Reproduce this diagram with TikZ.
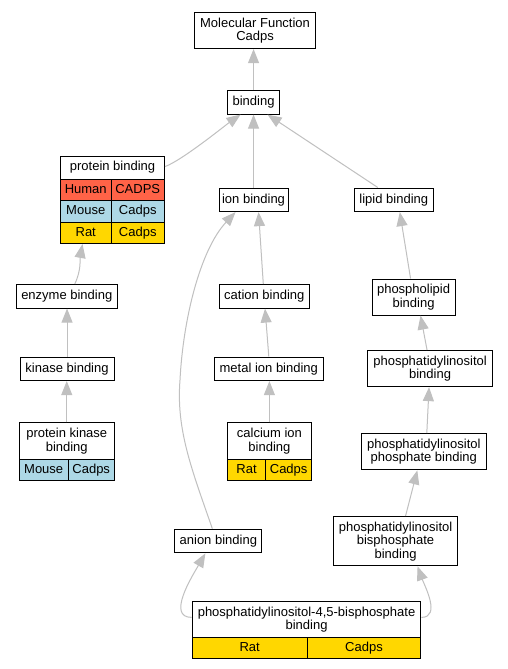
\documentclass[tikz,border=0pt]{standalone}
\usepackage{fontspec}
\setmainfont{Liberation Sans}
\usetikzlibrary{arrows.meta}
\definecolor{edgegray}{HTML}{C0C0C0}
\definecolor{human}{HTML}{FF6347}
\definecolor{mouse}{HTML}{ADD8E6}
\definecolor{rat}{HTML}{FFD700}
\begin{document}
\begin{tikzpicture}[x=1pt,y=-1pt,
  box/.style={draw=black, line width=1.1pt, fill=white, inner sep=0pt, align=center,
    anchor=north west, font=\fontsize{13}{13.5}\selectfont},
  one/.style={box, text height=9.4pt, text depth=2.7pt},
  cell/.style={one, line width=1pt},
  edge/.style={draw=edgegray, line width=1pt, -{Triangle[length=14pt,width=11pt]}}]
\fill[white] (0,0) rectangle (507,669);
\useasboundingbox (0,0) rectangle (507,669);

% nodes
\node[box, minimum width=121pt, minimum height=36pt] (mf) at (194,12) {Molecular Function\\Cadps};
\node[one, minimum width=52pt, minimum height=23.5pt] (bind) at (227,90) {binding};

\node[one, minimum width=104pt, minimum height=23pt] (pbh) at (60,155.5) {protein binding};
\node[cell, fill=human, minimum width=50.5pt, minimum height=21.5pt] (pb1a) at (60,178.5) {Human};
\node[cell, fill=human, minimum width=53.5pt, minimum height=21.5pt] (pb1b) at (110.5,178.5) {CADPS};
\node[cell, fill=mouse, minimum width=50.5pt, minimum height=21.5pt] (pb2a) at (60,200) {Mouse};
\node[cell, fill=mouse, minimum width=53.5pt, minimum height=21.5pt] (pb2b) at (110.5,200) {Cadps};
\node[cell, fill=rat, minimum width=50.5pt, minimum height=21.5pt] (pb3a) at (60,221.5) {Rat};
\node[cell, fill=rat, minimum width=53.5pt, minimum height=21.5pt] (pb3b) at (110.5,221.5) {Cadps};

\node[one, minimum width=69pt, minimum height=23.5pt] (ion) at (218.5,187.5) {ion binding};
\node[one, minimum width=78.5pt, minimum height=23.5pt] (lipid) at (354,187.5) {lipid binding};
\node[one, minimum width=101.5pt, minimum height=23.5pt] (enz) at (15.5,284) {enzyme binding};
\node[one, minimum width=90.5pt, minimum height=23.5pt] (cation) at (218.5,284) {cation binding};
\node[box, minimum width=83pt, minimum height=36pt] (plip) at (371.5,278.5) {phospholipid\\binding};
\node[one, minimum width=94pt, minimum height=23.5pt] (kin) at (19.5,356.5) {kinase binding};
\node[one, minimum width=108.5pt, minimum height=23.5pt] (metal) at (214,356.5) {metal ion binding};
\node[box, minimum width=125pt, minimum height=36pt] (pi) at (367,350) {phosphatidylinositol\\binding};

\node[box, minimum width=95pt, minimum height=36.4pt] (pkbh) at (18.7,422.3) {protein kinase\\binding};
\node[cell, fill=mouse, minimum width=49pt, minimum height=21.3pt] (pkba) at (18.7,458.7) {Mouse};
\node[cell, fill=mouse, minimum width=46pt, minimum height=21.3pt] (pkbb) at (67.7,458.7) {Cadps};

\node[box, minimum width=84.3pt, minimum height=36.4pt] (calh) at (226.7,422.3) {calcium ion\\binding};
\node[cell, fill=rat, minimum width=38.6pt, minimum height=21.3pt] (cala) at (226.7,458.7) {Rat};
\node[cell, fill=rat, minimum width=45.7pt, minimum height=21.3pt] (calb) at (265.3,458.7) {Cadps};

\node[box, minimum width=124.5pt, minimum height=36.3pt] (pip) at (361,433) {phosphatidylinositol\\phosphate binding};
\node[one, minimum width=87pt, minimum height=23.6pt] (anion) at (174.3,528.7) {anion binding};
\node[box, minimum width=124pt, minimum height=49.3pt] (pip2) at (333,516) {phosphatidylinositol\\bisphosphate\\binding};

\node[box, minimum width=228.6pt, minimum height=36.3pt] (bh) at (191.7,600.7) {phosphatidylinositol-4,5-bisphosphate\\binding};
\node[cell, fill=rat, minimum width=115pt, minimum height=21pt] (ba) at (191.7,637) {Rat};
\node[cell, fill=rat, minimum width=113.6pt, minimum height=21pt] (bb) at (306.7,637) {Cadps};

% edges
\draw[edge] (bind.north) -- (bind.north |- mf.south);
\draw[edge] ([yshift=1pt]pbh.east) to[out=20,in=-145,looseness=0.5] ([xshift=-13pt]bind.south);
\draw[edge] (ion.north) -- (ion.north |- bind.south);
\draw[edge] ([xshift=-16pt]lipid.north) -- ([xshift=14pt]bind.south);
\draw[edge] ([xshift=8pt]enz.north) to[out=65,in=-100] ([xshift=-28pt]pb3b.south west);
\draw[edge] (kin.north) -- (kin.north |- enz.south);
\draw[edge] (pkbh.north) -- (pkbh.north |- kin.south);
\draw[edge] ([xshift=-1pt]cation.north) -- ([xshift=5pt]ion.south);
\draw[edge] (metal.north) -- ([xshift=0.75pt]cation.south);
\draw[edge] (calh.north) -- (calh.north |- metal.south);
\draw[edge] ([xshift=-6pt]anion.north) .. controls (192,470) and (176,430) .. (180,380)
   .. controls (183,320) and (200,250) .. ([xshift=-18pt]ion.south);
\draw[edge] ([xshift=-3pt]plip.north) -- ([xshift=6pt]lipid.south);
\draw[edge] ([xshift=-3pt]pi.north) -- ([xshift=7pt]plip.south);
\draw[edge] ([xshift=3pt]pip.north) -- ([xshift=-1pt]pi.south);
\draw[edge] ([xshift=10pt]pip2.north) -- ([xshift=-6.5pt]pip.south);
\draw[edge] ([yshift=2pt]bh.west) to[out=180,in=-120] ([xshift=-13pt]anion.south);
\draw[edge] ([yshift=2pt]bh.east) to[out=0,in=-70] ([xshift=22pt]pip2.south);
\end{tikzpicture}
\end{document}
